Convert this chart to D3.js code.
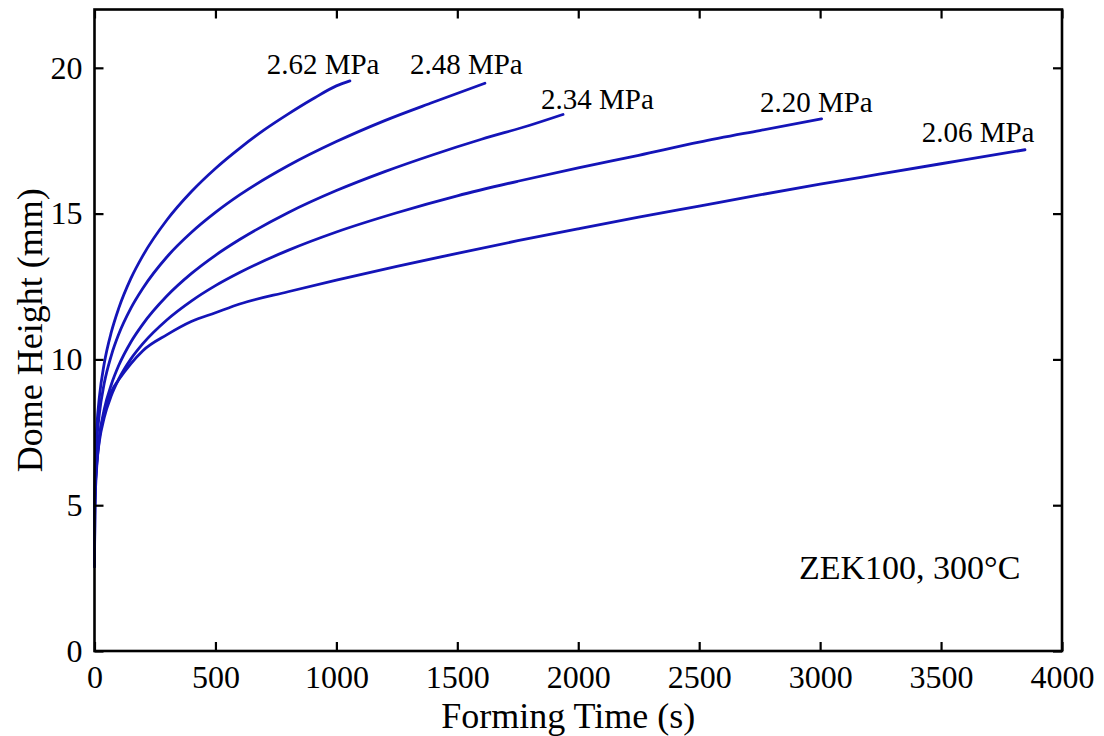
<!DOCTYPE html>
<html>
<head>
<meta charset="utf-8">
<script src="https://cdn.jsdelivr.net/npm/d3@7"></script>
<style>
  html, body { margin: 0; padding: 0; background: #fff; }
  svg { display: block; }
  text { font-family: "Liberation Serif", "Times New Roman", serif; fill: #000; }
</style>
</head>
<body>
<svg id="chart" width="1104" height="736"></svg>
<script>
// Dome height vs forming time, ZEK100 at 300°C, five forming pressures
const pressures = ["2.62 MPa", "2.48 MPa", "2.34 MPa", "2.20 MPa", "2.06 MPa"];

const time262 = [0, 1, 2, 5, 10, 20, 40, 70, 100, 150, 200, 300, 400, 500, 600, 700, 800, 900, 1000, 1056];
const dome262 = [2.9, 5.2, 6.15, 6.97, 7.75, 8.70, 9.85, 10.95, 11.75, 12.77, 13.56, 14.79, 15.75, 16.55, 17.24, 17.86, 18.41, 18.92, 19.38, 19.55];

const time248 = [0, 1, 2, 5, 10, 20, 40, 70, 100, 150, 200, 300, 400, 500, 600, 800, 1000, 1200, 1400, 1614];
const dome248 = [2.9, 5.0, 5.79, 6.55, 7.27, 8.13, 9.17, 10.15, 10.86, 11.75, 12.44, 13.52, 14.35, 15.04, 15.64, 16.64, 17.47, 18.19, 18.82, 19.47];

const time234 = [0, 1, 2, 5, 10, 20, 40, 70, 100, 150, 200, 300, 400, 500, 600, 800, 1000, 1200, 1400, 1600, 1800, 1937];
const dome234 = [2.9, 4.8, 5.31, 5.98, 6.60, 7.36, 8.28, 9.15, 9.79, 10.59, 11.21, 12.18, 12.94, 13.57, 14.11, 15.03, 15.79, 16.44, 17.02, 17.55, 18.03, 18.40];

const time220 = [0, 1, 2, 5, 10, 20, 40, 70, 100, 150, 200, 300, 400, 500, 600, 800, 1000, 1250, 1500, 1750, 2000, 2250, 2500, 2750, 3006];
const dome220 = [2.9, 4.6, 5.25, 5.90, 6.48, 7.19, 8.00, 8.77, 9.32, 10.01, 10.54, 11.36, 12.00, 12.53, 12.98, 13.74, 14.37, 15.03, 15.61, 16.11, 16.57, 17.00, 17.45, 17.85, 18.25];

const time206 = [0, 1, 2, 5, 10, 20, 40, 70, 100, 150, 200, 300, 400, 500, 600, 800, 1000, 1250, 1500, 1750, 2000, 2250, 2500, 2750, 3000, 3250, 3500, 3750, 3847];
const dome206 = [2.9, 4.4, 5.0, 5.7, 6.4, 7.3, 8.15, 8.9, 9.3, 9.85, 10.3, 10.85, 11.3, 11.6, 11.9, 12.32, 12.72, 13.19, 13.64, 14.07, 14.48, 14.88, 15.26, 15.64, 16.01, 16.36, 16.71, 17.06, 17.19];

// where each pressure label sits, in data units (left edge / baseline)
const labelTime = [712, 1304, 1846, 2751, 3420];
const labelDome = [19.79, 19.79, 18.6, 18.48, 17.45];

const xTicks = [0, 500, 1000, 1500, 2000, 2500, 3000, 3500, 4000];
const yTicks = [0, 5, 10, 15, 20];

const xTitle = "Forming Time (s)";
const yTitle = "Dome Height (mm)";
const note = "ZEK100, 300°C";

const series = [
  { t: time262, h: dome262 },
  { t: time248, h: dome248 },
  { t: time234, h: dome234 },
  { t: time220, h: dome220 },
  { t: time206, h: dome206 }
];

const svg = d3.select("#chart");
const plot = { left: 94.5, right: 1062, top: 9.5, bottom: 651 };

const x = d3.scaleLinear().domain([0, 4000]).range([plot.left, plot.right]);
const y = d3.scaleLinear().domain([0, 22]).range([plot.bottom, plot.top]);

const tickLen = 9;
const fontTick = 32;

// curves
const line = d3.line()
  .x(d => x(d[0]))
  .y(d => y(d[1]))
  .curve(d3.curveMonotoneX);

svg.append("g")
  .selectAll("path")
  .data(series)
  .join("path")
  .attr("d", s => line(s.t.map((t, i) => [t, s.h[i]])))
  .attr("fill", "none")
  .attr("stroke", "#1414b8")
  .attr("stroke-width", 2.8)
  .attr("stroke-linejoin", "round")
  .attr("stroke-linecap", "round");

// axes: inward ticks on all four sides
const fmt = d3.format("d");
const axBottom = d3.axisBottom(x).tickValues(xTicks).tickFormat(fmt).tickSizeInner(-tickLen).tickSizeOuter(0).tickPadding(14);
const axTop = d3.axisTop(x).tickValues(xTicks).tickSizeInner(-tickLen).tickSizeOuter(0).tickFormat("");
const axLeft = d3.axisLeft(y).tickValues(yTicks).tickFormat(fmt).tickSizeInner(-tickLen).tickSizeOuter(0).tickPadding(12);
const axRight = d3.axisRight(y).tickValues(yTicks).tickSizeInner(-tickLen).tickSizeOuter(0).tickFormat("");

function styleAxis(g) {
  g.select(".domain").remove();
  g.selectAll(".tick line").attr("stroke", "#000").attr("stroke-width", 2.2);
  g.selectAll(".tick text")
    .attr("font-family", "'Liberation Serif', 'Times New Roman', serif")
    .attr("font-size", fontTick)
    .attr("fill", "#000");
}

svg.append("g").attr("transform", `translate(0,${plot.bottom})`).call(axBottom).call(styleAxis)
  .selectAll(".tick text").attr("dy", "0.71em");
svg.append("g").attr("transform", `translate(0,${plot.top})`).call(axTop).call(styleAxis);
svg.append("g").attr("transform", `translate(${plot.left},0)`).call(axLeft).call(styleAxis)
  .selectAll(".tick text").attr("dy", "0.32em");
svg.append("g").attr("transform", `translate(${plot.right},0)`).call(axRight).call(styleAxis);

// frame
svg.append("rect")
  .attr("x", plot.left).attr("y", plot.top)
  .attr("width", plot.right - plot.left).attr("height", plot.bottom - plot.top)
  .attr("fill", "none").attr("stroke", "#000").attr("stroke-width", 2.6);

// pressure labels
svg.append("g")
  .selectAll("text")
  .data(pressures)
  .join("text")
  .attr("x", (d, i) => x(labelTime[i]))
  .attr("y", (d, i) => y(labelDome[i]))
  .attr("font-size", 29)
  .text(d => d);

// annotation
svg.append("text")
  .attr("x", 799).attr("y", 579)
  .attr("font-size", 34)
  .text(note);

// axis titles
svg.append("text")
  .attr("x", (plot.left + plot.right) / 2 - 10).attr("y", 728)
  .attr("text-anchor", "middle")
  .attr("font-size", 36)
  .text(xTitle);

svg.append("text")
  .attr("transform", `translate(42,${(plot.top + plot.bottom) / 2}) rotate(-90)`)
  .attr("text-anchor", "middle")
  .attr("font-size", 36)
  .text(yTitle);
</script>
</body>
</html>
